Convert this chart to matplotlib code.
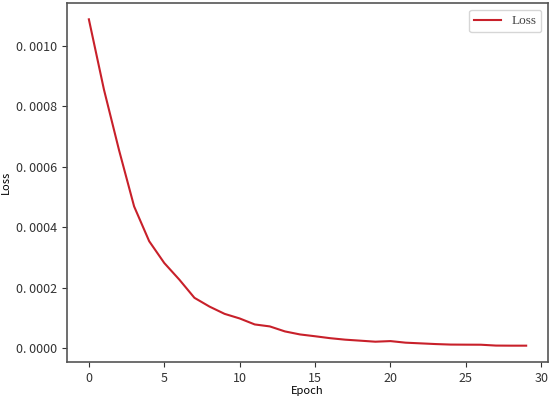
import matplotlib
matplotlib.use("Agg")
import matplotlib.pyplot as plt

epochs = list(range(30))
loss = [0.001087, 0.000855, 0.000655, 0.000469, 0.000354, 0.000282, 0.000227,
        0.000167, 0.000138, 0.000114, 0.0000988, 0.000079, 0.0000725, 0.000056,
        0.000046, 0.000040, 0.0000336, 0.0000287, 0.0000254, 0.000022, 0.000024,
        0.0000188, 0.0000165, 0.0000142, 0.0000125, 0.0000122, 0.000012,
        0.0000092, 0.0000089, 0.0000089]

plt.rcParams['font.family'] = ['Noto Sans CJK SC', 'DejaVu Sans']

fig = plt.figure(figsize=(5.51, 4.01), dpi=100)
ax = fig.add_axes([0.1216, 0.0973, 0.873, 0.8952])
ax.plot(epochs, loss, color='#c8202a', linewidth=1.5, label='Loss')

ax.set_yticks([0.0, 0.0002, 0.0004, 0.0006, 0.0008, 0.0010])
ax.set_yticklabels(['0. 0000', '0. 0002', '0. 0004', '0. 0006', '0. 0008', '0. 0010'])
ax.set_xticks([0, 5, 10, 15, 20, 25, 30])
ax.tick_params(labelsize=9, colors='#333333')
ax.set_xlabel('Epoch', fontsize=8, labelpad=1)
ax.set_ylabel('Loss', fontsize=8, labelpad=4)
for s in ax.spines.values():
    s.set_color('#555555')
    s.set_linewidth(1.2)

leg = ax.legend(loc='upper right', prop={'family': 'Liberation Serif', 'size': 9.5},
                handlelength=2.0, fancybox=True, labelcolor='#444444')

fig.savefig('out.png', dpi=100)
